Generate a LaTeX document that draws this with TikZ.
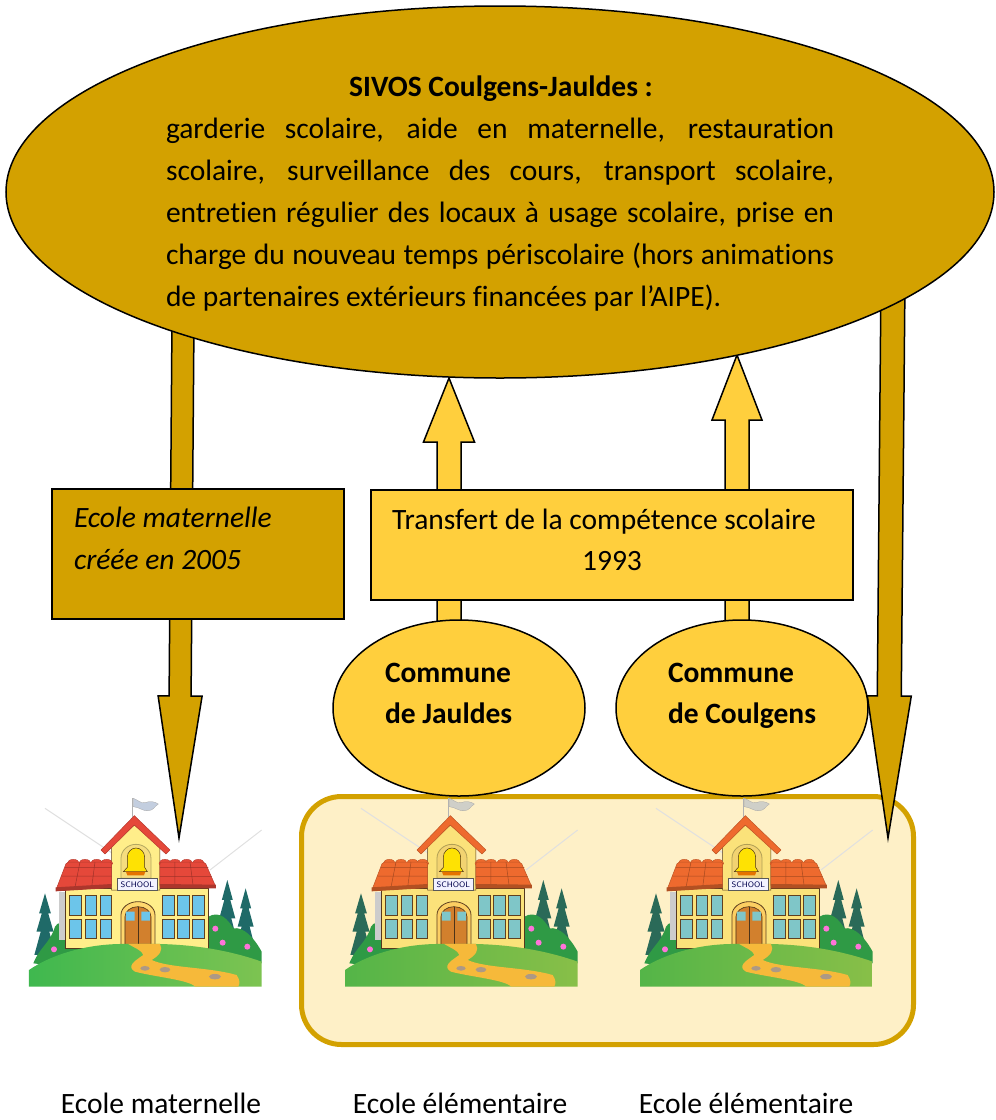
\documentclass[tikz,border=0pt]{standalone}
\usepackage{fontspec}
\setmainfont[Ligatures=NoCommon]{Carlito}
\usetikzlibrary{calc}
\definecolor{dgold}{HTML}{D3A100}
\definecolor{lgold}{HTML}{FFCF3D}
\definecolor{cream}{HTML}{FEF0C7}
\newcommand\bodyfont{\fontsize{29.5}{30}\selectfont}
\tikzset{
  x=1pt,y=-1pt,
  shapeline/.style={draw=black,line width=1.5pt},
  arrowline/.style={draw=black,line width=1.5pt,line join=miter,miter limit=20},
  lbl/.style={inner sep=0pt,outer sep=0pt,anchor=base west,font=\bodyfont},
  lblc/.style={inner sep=0pt,outer sep=0pt,anchor=base,font=\bodyfont},
}
\newcommand\blockarrow[6]{%
  \coordinate (neck) at ($(#2)!#5pt!(#1)$);
  \draw[arrowline,fill=#6] ($(#1)!#3pt!90:(#2)$) -- ($(neck)!#3pt!90:(#2)$) -- ($(neck)!#4pt!90:(#2)$) -- (#2)
    -- ($(neck)!#4pt!-90:(#2)$) -- ($(neck)!#3pt!-90:(#2)$) -- ($(#1)!#3pt!-90:(#2)$) -- cycle;
}
\newcommand\tree[3]{% apex x, apex y, half width
  \fill[treeC] (#1,#2) -- ({#1+#3*0.55},{#2+60}) -- ({#1+#3*0.3},{#2+60}) -- ({#1+#3*0.8},{#2+115}) -- ({#1+#3*0.4},{#2+115}) -- ({#1+#3},{#2+185})
     -- ({#1-#3},{#2+185}) -- ({#1-#3*0.4},{#2+115}) -- ({#1-#3*0.8},{#2+115}) -- ({#1-#3*0.3},{#2+60}) -- ({#1-#3*0.55},{#2+60}) -- cycle;
}
\newcommand\school[3]{% x, y, roof colour
  \begin{scope}[shift={(#1,#2)},x=0.3333pt,y=-0.3333pt]
    \draw[black!12,line width=1pt] (75,85) -- (300,235) (725,150) -- (570,270);
    % trees and bushes
    \tree{75}{340}{32}
    \tree{622}{300}{30}
    \tree{677}{325}{30}
    \fill[bushC] (40,550) .. controls (60,500) and (90,490) .. (105,440) .. controls (125,410) and (140,450) .. (150,480) .. controls (170,480) and (180,500) .. (190,510) -- (120,560) -- cycle;
    \fill[bushC] (565,410) .. controls (600,390) and (625,420) .. (640,445) .. controls (670,440) and (700,470) .. (725,515) -- (725,550) -- (565,510) -- cycle;
    \foreach \px/\py in {102/508,586/446,608/488,682/500}
      \fill[pink!60!magenta] (\px,\py) circle[radius=9];
    % body
    \draw[draw=black!55!brown,fill=bodyC,line width=.5pt] (135,325) rectangle (565,505);
    \fill[gray!40] (118,335) rectangle (135,480);
    % tower
    \draw[draw=black!55!brown,fill=bodyC,line width=.5pt] (275,195) -- (343,135) -- (420,195) -- (420,330) -- (275,330) -- cycle;
    % side roofs with a row of ridge tiles
    \foreach \rx in {160,195,230,260,435,465,500,535}
      \draw[draw=#3!80!black,fill=#3,line width=.4pt] (\rx,250) circle[x radius=18,y radius=12];
    \draw[draw=#3!80!black,fill=#3,line width=.5pt,rounded corners=2pt] (140,246) -- (275,246) -- (275,322) -- (107,332) -- cycle;
    \draw[draw=#3!80!black,fill=#3,line width=.5pt,rounded corners=2pt] (420,246) -- (555,246) -- (588,322) -- (420,322) -- cycle;
    \draw[#3!70!black,line width=.5pt] (135,262) -- (275,262) (125,288) -- (275,288) (420,262) -- (565,262) (420,290) -- (575,290)
      (180,246) -- (165,322) (225,246) -- (215,322) (465,246) -- (465,322) (510,246) -- (520,322);
    \fill[#3!75!black] (107,322) -- (275,312) -- (275,324) -- (107,334) -- cycle (420,312) -- (588,314) -- (588,325) -- (420,325) -- cycle;
    % main gable
    \draw[draw=#3!80!black,fill=#3,line width=.5pt,line join=round] (343,107) -- (450,210) -- (438,222) -- (343,135) -- (255,222) -- (243,210) -- cycle;
    % flag
    \draw[gray!60,line width=1.2pt] (338,110) -- (338,55);
    \fill[flagC,draw=gray!70,line width=.3pt] (340,55) .. controls (355,60) and (360,70) .. (375,68) .. controls (390,62) and (405,65) .. (415,72) .. controls (405,78) and (400,92) .. (385,92) .. controls (370,95) and (360,82) .. (340,80) -- cycle;
    % bell
    \draw[draw=black!30!bodyC,fill=bodyC!85!brown,line width=.8pt] (303,295) -- (303,235) arc[start angle=180,end angle=360,x radius=45,y radius=42] -- (393,295) -- cycle;
    \draw[draw=black!60!brown,fill=yellow!85!orange,line width=.5pt] (322,262) -- (322,232) arc[start angle=180,end angle=360,x radius=26,y radius=28] -- (374,262) -- (382,275) -- (310,275) -- cycle;
    \fill[orange!90!black] (318,275) -- (376,275) -- (372,286) -- (322,286) -- cycle;
    % sign
    \draw[draw=gray!70!black,fill=blue!5!white,line width=.5pt] (292,296) rectangle (412,332);
    \node[inner sep=0pt,font=\fontsize{8}{8}\selectfont\sffamily,text=blue!30!black] (sign#1) at (352,314) {SCHOOL};
    % windows
    \foreach \wx in {148,195,240,428,473,518}
      \foreach \wy/\wh in {345/60,418/57}
        \draw[draw=black!50!brown,fill=winC,line width=.8pt] (\wx,\wy) rectangle ++(35,\wh);
    % door
    \draw[draw=black!50!brown,fill=bodyC!80!orange,line width=.8pt] (303,495) -- (303,405) arc[start angle=180,end angle=360,x radius=51,y radius=40] -- (405,495) -- cycle;
    \draw[draw=black!60!brown,fill=brown!70!orange,line width=.6pt] (315,495) -- (315,410) arc[start angle=180,end angle=360,x radius=39,y radius=30] -- (393,495) -- cycle;
    \fill[winC] (318,395) rectangle (344,422) (364,395) rectangle (390,422);
    \draw[black!60!brown,line width=.5pt] (354,380) -- (354,495);
    % hill
    \shade[left color=hillA,right color=hillB] (27,620) -- (27,570) .. controls (100,520) and (210,490) .. (320,492) -- (420,492) .. controls (540,495) and (640,515) .. (725,545) -- (725,620) -- cycle;
    % path
    \fill[pathC] (325,492) -- (420,492) .. controls (430,510) and (420,525) .. (395,540) .. controls (450,565) and (560,560) .. (650,585) .. controls (660,600) and (660,610) .. (655,620) -- (525,620) .. controls (510,600) and (400,590) .. (345,575) .. controls (320,560) and (340,545) .. (370,525) .. controls (365,510) and (345,505) .. (325,492) -- cycle;
    \fill[gray!60!brown!80] (375,565) ellipse[x radius=14,y radius=7] (435,569) ellipse[x radius=16,y radius=8] (585,590) ellipse[x radius=18,y radius=8];
  \end{scope}
}
\begin{document}
\begin{tikzpicture}
\useasboundingbox (0,0) rectangle (996,1120);
% frame around the elementary schools
\node[draw=dgold,fill=cream,line width=5pt,rounded corners=40pt,minimum width=612pt,minimum height=248pt,inner sep=0pt] (frame) at (607.5,920.5) {};
% schools
\definecolor{hillA}{HTML}{3FB84F}\definecolor{hillB}{HTML}{7DC351}\definecolor{roofA}{HTML}{E5483A}\definecolor{roofB}{HTML}{EE6A2E}
\definecolor{bodyC}{HTML}{FFEE8A}\definecolor{treeC}{HTML}{1F6A68}\definecolor{bushC}{HTML}{2F9A45}\definecolor{winC}{HTML}{6CC5EA}\definecolor{pathC}{HTML}{F6B93A}\definecolor{flagC}{HTML}{C3CEDF}
\school{20}{780}{roofA}
\definecolor{bodyC}{HTML}{FBE27A}\definecolor{winC}{HTML}{7FC6C8}\definecolor{treeC}{HTML}{2A6A58}\definecolor{hillA}{HTML}{54B548}\definecolor{hillB}{HTML}{88BF48}\definecolor{flagC}{HTML}{CFCFC8}
\school{336}{780}{roofB}
\school{631}{780}{roofB}
% anchor points of the block arrows
\coordinate (upAfrom) at (449,632);
\coordinate (upAtip) at (449,378);
\coordinate (upBfrom) at (737,632);
\coordinate (upBtip) at (737,355);
\coordinate (downAfrom) at (183,320);
\coordinate (downAtip) at (179,838);
\coordinate (downBfrom) at (893,280);
\coordinate (downBtip) at (888,838);
\blockarrow{upAfrom}{upAtip}{12}{25.5}{64}{lgold}
\blockarrow{upBfrom}{upBtip}{12}{25}{65}{lgold}
\blockarrow{downAfrom}{downAtip}{11}{22}{142}{dgold}
\blockarrow{downBfrom}{downBtip}{12}{22}{142}{dgold}
% boxes
\node[shapeline,fill=dgold,minimum width=292pt,minimum height=130pt,inner sep=0pt] (boxmat) at (198,554) {};
\node[shapeline,fill=lgold,minimum width=482pt,minimum height=110pt,inner sep=0pt] (boxtrans) at (612,545) {};
% ellipses
\draw[shapeline,fill=lgold] (459,708) ellipse[x radius=126,y radius=88];
\draw[shapeline,fill=lgold] (742,708) ellipse[x radius=126,y radius=88];
\draw[shapeline,fill=dgold] (500,192) ellipse[x radius=494,y radius=186];
% texts
\node[lblc,font=\bodyfont\bfseries] (title) at (501,96) {SIVOS Coulgens-Jauldes :};
\node[inner sep=0pt,outer sep=0pt,anchor=north west,text width=668pt,align=justify,font=\fontsize{29.5}{42}\selectfont] (desc) at (166,118) {%
garderie scolaire, aide en maternelle, restauration\linebreak
scolaire, surveillance des cours, transport scolaire,\linebreak
entretien régulier des locaux à usage scolaire, prise en\linebreak
charge du nouveau temps périscolaire (hors animations\linebreak
de partenaires extérieurs financées par l’AIPE).};
\node[lbl,font=\bodyfont\itshape] (mat1) at (74,527) {Ecole maternelle};
\node[lbl,font=\bodyfont\itshape] (mat2) at (74,569) {créée en 2005};
\node[lblc] (tr1) at (604,529) {Transfert de la compétence scolaire};
\node[lblc] (tr2) at (612,570) {1993};
\node[lbl,font=\bodyfont\bfseries] (ja1) at (385,682) {Commune};
\node[lbl,font=\bodyfont\bfseries] (ja2) at (385,723) {de Jauldes};
\node[lbl,font=\bodyfont\bfseries] (co1) at (668,682) {Commune};
\node[lbl,font=\bodyfont\bfseries] (co2) at (668,723) {de Coulgens};
\node[lblc] (e1) at (161,1113) {Ecole maternelle};
\node[lblc] (e2) at (460,1113) {Ecole élémentaire};
\node[lblc] (e3) at (746,1113) {Ecole élémentaire};
\end{tikzpicture}
\end{document}
